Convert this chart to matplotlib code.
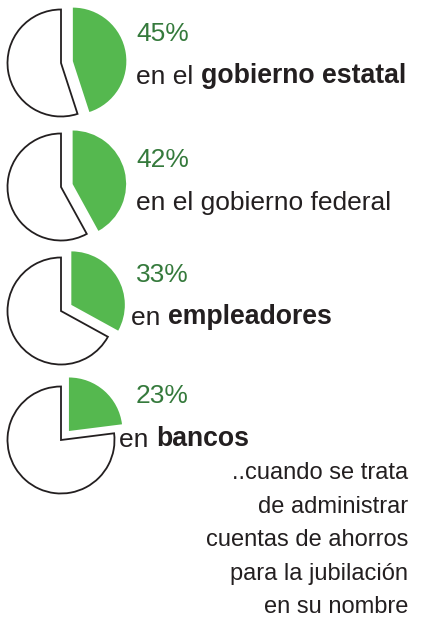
import matplotlib.pyplot as plt

plt.rcParams['font.family'] = ['Liberation Sans', 'DejaVu Sans']

shares = [45, 42, 33, 23]
pct_labels = ['45%', '42%', '33%', '23%']
plain_text = ['en el ', 'en el gobierno federal', 'en ', 'en ']
bold_text = ['gobierno estatal', '', 'empleadores', 'bancos']
footer = '..cuando se trata\nde administrar\ncuentas de ahorros\npara la jubilación\nen su nombre'

GREEN = '#55b84f'
GREEN_TXT = '#357a3c'
INK = '#231f20'

W, H = 439, 618
fig = plt.figure(figsize=(W / 100, H / 100), dpi=100)
ax = fig.add_axes([0, 0, 1, 1])

# pie centres and text anchors, in pixels from the top
pie_y = [63, 187, 311, 440]
pct_y = [34, 160, 275, 396]
txt_y = [77, 203, 318, 440]
txt_x = [136, 136, 131, 119]
r = 53.5

for i, s in enumerate(shares):
    # explode is in data units here (pixels), not a fraction of the radius
    wedges, _ = ax.pie([s, 100 - s], explode=[12, 0], startangle=90,
                       counterclock=False, center=(61, H - pie_y[i]),
                       radius=r, frame=True)
    wedges[0].set(facecolor=GREEN, edgecolor='none')
    wedges[1].set(facecolor='white', edgecolor=INK, linewidth=1.3)

    ax.text(136, H - pct_y[i], pct_labels[i], color=GREEN_TXT, fontsize=19,
            va='center', ha='left')
    t = ax.text(txt_x[i], H - txt_y[i], plain_text[i], color=INK,
                fontsize=19, va='center', ha='left')
    if bold_text[i]:
        ax.annotate(bold_text[i], xy=(1, 0), xycoords=t, color=INK,
                    fontsize=19.2, fontweight='bold', va='bottom', ha='left')

# multi-line baseline anchors the last line
ax.text(408, H - 613, footer, color=INK, fontsize=17, ha='right',
        va='baseline', linespacing=1.67)

ax.set_xlim(0, W)
ax.set_ylim(0, H)
ax.set_aspect('equal')
ax.axis('off')

fig.savefig('out.png', dpi=100)
